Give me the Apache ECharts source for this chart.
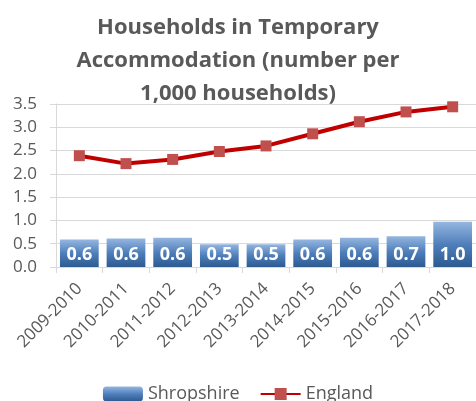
<!DOCTYPE html>
<html lang="en">
<head>
    <meta charset="UTF-8">
    <title>Households in Temporary Accommodation</title>
    <script src="https://cdn.jsdelivr.net/npm/echarts@6/dist/echarts.min.js"></script>
    <style>
        html, body { margin: 0; padding: 0; background: #fff; }
        #chart { width: 476px; height: 401px; }
    </style>
</head>
<body>
    <div id="chart"></div>
    <script>
        // Data
        var years = ['2009-2010', '2010-2011', '2011-2012', '2012-2013', '2013-2014',
                     '2014-2015', '2015-2016', '2016-2017', '2017-2018'];
        var shropshire = [0.59, 0.61, 0.63, 0.49, 0.49, 0.59, 0.63, 0.66, 0.97];
        var england = [2.39, 2.22, 2.31, 2.48, 2.60, 2.86, 3.12, 3.33, 3.44];

        var font = '"Open Sans", sans-serif';
        var chart = echarts.init(document.getElementById('chart'));

        chart.setOption({
            animation: false,
            title: {
                text: 'Households in Temporary\nAccommodation (number per\n1,000 households)',
                left: 'center',
                top: 6,
                textStyle: {
                    fontFamily: font,
                    fontWeight: 'bold',
                    fontSize: 22,
                    lineHeight: 33,
                    color: '#595959'
                }
            },
            legend: {
                top: 380,
                left: 'center',
                itemWidth: 40,
                itemHeight: 15,
                itemGap: 20,
                textStyle: { fontFamily: font, fontSize: 18, color: '#595959' },
                data: ['Shropshire', 'England']
            },
            grid: { left: 56, right: -4, top: 104, bottom: 134, containLabel: false },
            xAxis: {
                type: 'category',
                data: years,
                axisLine: { lineStyle: { color: '#d9d9d9', width: 1 } },
                axisTick: { show: true, length: 6, lineStyle: { color: '#d9d9d9' } },
                axisLabel: {
                    rotate: 45,
                    interval: 0,
                    margin: 19,
                    fontFamily: font,
                    fontSize: 17,
                    color: '#595959'
                }
            },
            yAxis: {
                type: 'value',
                min: 0,
                max: 3.5,
                interval: 0.5,
                axisLine: { show: true, lineStyle: { color: '#d9d9d9' } },
                axisTick: { show: true, length: 6, lineStyle: { color: '#d9d9d9' } },
                splitLine: { lineStyle: { color: '#d9d9d9' } },
                axisLabel: {
                    formatter: function (v) { return v.toFixed(1); },
                    margin: 19,
                    fontFamily: font,
                    fontSize: 17,
                    color: '#595959'
                }
            },
            series: [
                {
                    name: 'Shropshire',
                    type: 'bar',
                    data: shropshire,
                    barCategoryGap: '17%',
                    itemStyle: {
                        color: new echarts.graphic.LinearGradient(0, 0, 0, 1, [
                            { offset: 0, color: '#95b6e0' },
                            { offset: 0.5, color: '#4f7fbb' },
                            { offset: 1, color: '#2c5a91' }
                        ])
                    },
                    label: {
                        show: true,
                        position: 'insideBottom',
                        distance: 3,
                        formatter: function (p) { return p.value.toFixed(1); },
                        fontFamily: font,
                        fontWeight: 'bold',
                        fontSize: 18,
                        color: '#ffffff'
                    }
                },
                {
                    name: 'England',
                    type: 'line',
                    data: england,
                    symbol: 'rect',
                    symbolSize: 11,
                    lineStyle: { color: '#c00000', width: 4 },
                    itemStyle: { color: '#c0504d' }
                }
            ]
        });
    </script>
</body>
</html>
